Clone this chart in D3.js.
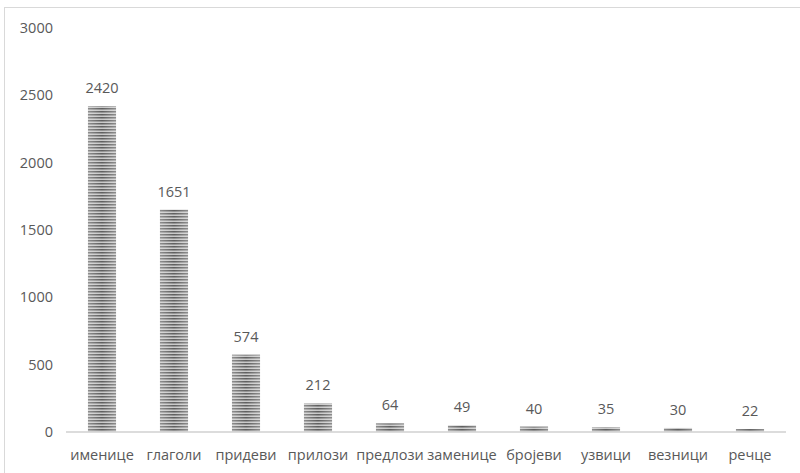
<!DOCTYPE html>
<html>
<head>
<meta charset="utf-8">
<script src="https://cdn.jsdelivr.net/npm/d3@7"></script>
<style>
  body { margin: 0; background: #fff; }
  text { font-family: "Open Sans", sans-serif; fill: #595959; }
</style>
</head>
<body>
<div id="chart"></div>
<script>
var width = 800;
var height = 473;

var categories = ["именице", "глаголи", "придеви", "прилози", "предлози", "заменице", "бројеви", "узвици", "везници", "речце"];
var values = [2420, 1651, 574, 212, 64, 49, 40, 35, 30, 22];
var yTicks = [0, 500, 1000, 1500, 2000, 2500, 3000];

var margin = {left: 66, right: 14, top: 28, bottom: 41};

var svg = d3.select("#chart").append("svg")
  .attr("width", width)
  .attr("height", height);

// striped fill like the original
var defs = svg.append("defs");
var pat = defs.append("pattern")
  .attr("id", "stripes")
  .attr("patternUnits", "userSpaceOnUse")
  .attr("width", 4)
  .attr("height", 3);
pat.append("rect").attr("width", 4).attr("height", 3).attr("fill", "#c8c8c8");
pat.append("rect").attr("width", 4).attr("height", 1.5).attr("fill", "#5e5e5e");

var grad = defs.append("linearGradient")
  .attr("id", "shade")
  .attr("x1", "0").attr("x2", "1").attr("y1", "0").attr("y2", "0");
grad.append("stop").attr("offset", "0%").attr("stop-color", "#fff").attr("stop-opacity", 0.3);
grad.append("stop").attr("offset", "50%").attr("stop-color", "#fff").attr("stop-opacity", 0);
grad.append("stop").attr("offset", "100%").attr("stop-color", "#fff").attr("stop-opacity", 0.3);

// chart border (cropped on right and bottom)
svg.append("rect")
  .attr("x", 4.5)
  .attr("y", 7.5)
  .attr("width", 900)
  .attr("height", 600)
  .attr("fill", "none")
  .attr("stroke", "#d9d9d9")
  .attr("stroke-width", 1);

var x = d3.scaleBand()
  .domain(categories)
  .range([margin.left, width - margin.right])
  .paddingInner(0.61)
  .paddingOuter(0.305);

var y = d3.scaleLinear()
  .domain([0, 3000])
  .range([height - margin.bottom, margin.top]);

// y axis labels
svg.append("g")
  .selectAll("text")
  .data(yTicks)
  .enter().append("text")
  .attr("x", 53)
  .attr("y", function(d) { return y(d); })
  .attr("dy", "0.35em")
  .attr("text-anchor", "end")
  .style("font-size", "14.5px")
  .text(function(d) { return d; });

var data = categories.map(function(c, i) { return {cat: c, value: values[i]}; });

var bars = svg.selectAll(".bar")
  .data(data)
  .enter().append("g")
  .attr("class", "bar");

bars.append("rect")
  .attr("x", function(d) { return x(d.cat); })
  .attr("y", function(d) { return y(d.value); })
  .attr("width", x.bandwidth())
  .attr("height", function(d) { return y(0) - y(d.value); })
  .attr("fill", "url(#stripes)");

bars.append("rect")
  .attr("x", function(d) { return x(d.cat); })
  .attr("y", function(d) { return y(d.value); })
  .attr("width", x.bandwidth())
  .attr("height", function(d) { return y(0) - y(d.value); })
  .attr("fill", "url(#shade)");

bars.append("text")
  .attr("x", function(d) { return x(d.cat) + x.bandwidth() / 2; })
  .attr("y", function(d) { return y(d.value) - 13; })
  .attr("text-anchor", "middle")
  .style("font-size", "14.5px")
  .text(function(d) { return d.value; });

// x axis line
svg.append("line")
  .attr("x1", margin.left)
  .attr("x2", width - margin.right)
  .attr("y1", y(0))
  .attr("y2", y(0))
  .attr("stroke", "#d0d0d0")
  .attr("stroke-width", 1.5);

svg.append("g")
  .selectAll("text")
  .data(categories)
  .enter().append("text")
  .attr("x", function(d) { return x(d) + x.bandwidth() / 2; })
  .attr("y", 460)
  .attr("text-anchor", "middle")
  .style("font-size", "14.5px")
  .text(function(d) { return d; });
</script>
</body>
</html>
